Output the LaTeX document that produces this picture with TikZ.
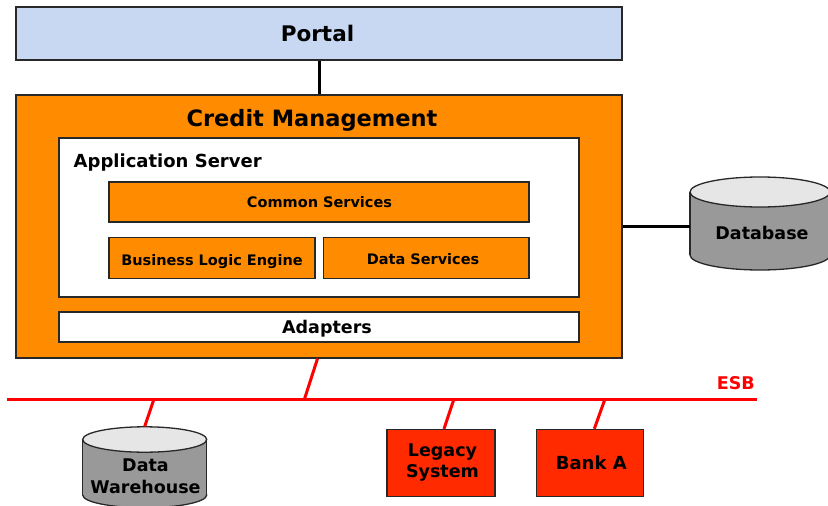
\documentclass[tikz,border=0pt]{standalone}
\usepackage{fontspec}
\setmainfont{DejaVu Sans}
\definecolor{portalblue}{RGB}{201,216,242}
\definecolor{mgmtorange}{RGB}{255,140,0}
\definecolor{extred}{RGB}{255,42,0}
\definecolor{busred}{RGB}{255,0,0}
\definecolor{drumbody}{RGB}{153,153,153}
\definecolor{drumtop}{RGB}{230,230,230}
\definecolor{edge}{RGB}{40,40,40}
\tikzset{
  frame/.style={draw=edge, line width=1.3pt, inner sep=0pt},
  portalbox/.style={frame, fill=portalblue},
  orangebox/.style={frame, fill=mgmtorange},
  whitebox/.style={frame, fill=white},
  redbox/.style={frame, fill=extred},
  plain/.style={inner sep=0pt, align=center},
  big/.style={font=\fontsize{22.5}{27}\selectfont\bfseries},
  mid/.style={font=\fontsize{17.5}{21.5}\selectfont\bfseries},
  small/.style={font=\fontsize{14.5}{17}\selectfont\bfseries},
  link/.style={line width=3pt, black},
  buslink/.style={line width=3pt, busred},
  drum/.style={draw=edge, line width=1.3pt},
}
\begin{document}
\begin{tikzpicture}[x=1pt,y=-1pt]
\useasboundingbox (0,0) rectangle (828,506);
\clip (0,0) rectangle (828,506);

% Portal
\node[portalbox, minimum width=606pt, minimum height=53pt] (portal) at (319,33.5) {};
\node[plain, font=\fontsize{21.5}{26}\selectfont\bfseries, anchor=base] (portallabel) at (317.5,41.5) {Portal};

% Credit Management
\node[orangebox, minimum width=606pt, minimum height=263pt] (credit) at (319,226.5) {};
\node[plain, big, anchor=base] (cmtitle) at (312,126) {Credit Management};

% Application server
\node[whitebox, minimum width=520pt, minimum height=159pt] (appsrv) at (319,217.5) {};
\node[plain, anchor=base west, font=\fontsize{18}{22}\selectfont\bfseries] (applabel) at (73.5,167.5)
  {Application Server};
\node[orangebox, minimum width=420pt, minimum height=40pt] (common) at (319,202) {};
\node[plain, small, anchor=base] (commonlabel) at (319.5,207.5) {Common Services};
\node[orangebox, minimum width=206pt, minimum height=41pt] (ble) at (212,258) {};
\node[plain, small, anchor=base] (blelabel) at (212,265) {Business Logic Engine};
\node[orangebox, minimum width=205.5pt, minimum height=41pt] (ds) at (426.25,258) {};
\node[plain, small, anchor=base] (dslabel) at (423,264.3) {Data Services};

% Adapters
\node[whitebox, minimum width=520pt, minimum height=30pt] (adapters) at (319,327) {};
\node[plain, mid, anchor=base] (adapterslabel) at (327,333.5) {Adapters};

% Database cylinder
\fill[drumbody, drum] (760,255) ellipse [x radius=70, y radius=15];
\fill[drumbody] (690,192) rectangle (830,255);
\draw[drum] (690,192) -- (690,255);
\draw[drum] (830,192) -- (830,255);
\filldraw[fill=drumtop, drum] (760,192) ellipse [x radius=70, y radius=15];
\node[inner sep=0pt, minimum width=140pt, minimum height=93pt] (db) at (760,223.5) {};
\node[plain, mid] (dblabel) at (762,233) {Database};

% Data Warehouse cylinder
\fill[drumbody, drum] (144.7,495) ellipse [x radius=62, y radius=12.7];
\fill[drumbody] (82.7,439.5) rectangle (206.7,495);
\draw[drum] (82.7,439.5) -- (82.7,495);
\draw[drum] (206.7,439.5) -- (206.7,495);
\filldraw[fill=drumtop, drum] (144.7,439.5) ellipse [x radius=62, y radius=12.7];
\node[inner sep=0pt, minimum width=124pt, minimum height=81pt] (dw) at (144.7,467.2) {};
\node[plain, mid] (dwlabel) at (145.5,476) {Data\\Warehouse};

% External systems
\node[redbox, minimum width=108pt, minimum height=67pt] (legacy) at (441,463) {};
\node[plain, mid] (legacylabel) at (442.5,462.5) {Legacy\\System};
\node[redbox, minimum width=107pt, minimum height=67pt] (bank) at (590.3,463) {};
\node[plain, font=\fontsize{18}{22}\selectfont\bfseries] (banklabel) at (591.3,462.7) {Bank A};

% ESB
\coordinate (esbL) at (7,399);
\coordinate (esbR) at (757,399);
\draw[buslink] (esbL) -- (esbR);
\node[plain, mid, anchor=east, text=busred] (esb) at (755,383) {ESB};

\coordinate (e1) at (304.5,399);
\coordinate (e2) at (154,399);
\coordinate (e3) at (454,399);
\coordinate (e4) at (605,399);
\draw[buslink] ([xshift=-1.5pt]credit.south) -- (e1);
\draw[buslink] (e2) -- (dw.north);
\draw[buslink] (e3) -- ([xshift=3pt]legacy.north);
\draw[buslink] (e4) -- ([xshift=4pt]bank.north);

% Black connectors
\draw[link] (portal.south) -- (credit.north);
\draw[link] (credit.east) -- (credit.east -| db.west);
\end{tikzpicture}
\end{document}
